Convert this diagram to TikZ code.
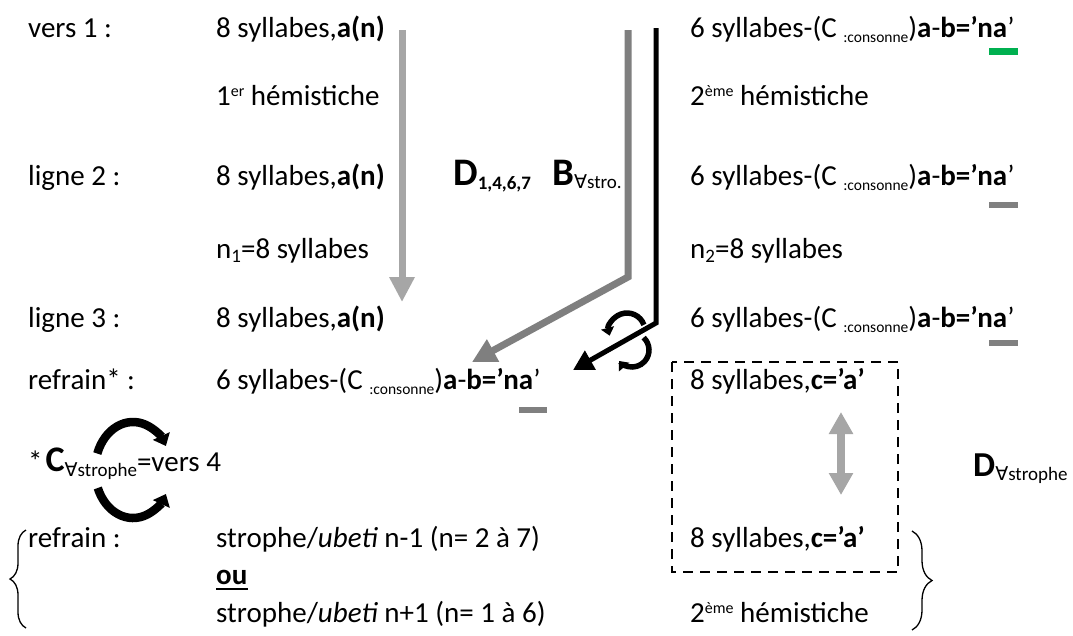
\documentclass[tikz,border=0pt]{standalone}
\usepackage{fontspec}
\setmainfont{Carlito}
\newfontfamily\djv{DejaVu Sans}
\usetikzlibrary{arrows.meta,calc,decorations.pathreplacing}
\definecolor{lgray}{HTML}{A6A6A6}
\definecolor{mgray}{HTML}{7F7F7F}
\definecolor{bargray}{HTML}{808080}
\definecolor{bargreen}{HTML}{00B050}
\newcommand\bodyfs{\fontsize{29}{34}\selectfont}
\newcommand\lowtxt[3]{\raisebox{-#2}{\fontsize{#1}{#1}\selectfont #3}}
\newcommand\hightxt[3]{\raisebox{#2}{\fontsize{#1}{#1}\selectfont #3}}
\newcommand\fa{{\djv ∀}}
\newcommand\sixsyl{6 syllabes-(C \lowtxt{15.5}{5pt}{:consonne})\textbf{a}-\textbf{b=’na}’}
\begin{document}
\begin{tikzpicture}[x=1pt,y=-1pt,
  txt/.style={anchor=base west,inner sep=0pt,font=\bodyfs},
  bar/.style={fill=bargray},
  lgarrow/.style={line width=7pt,lgray},
  curv/.style={line width=8.5pt,-{Triangle[width=18pt,length=11pt]}},
  scurv/.style={line width=5.5pt,-{Triangle[width=13pt,length=8pt]}},
  bracestyle/.style={line width=1.3pt,decorate}]
\fill[white] (0,0) rectangle (1073,635);
\useasboundingbox (0,0) rectangle (1073,635);
% texts
\node[txt] (v1) at (28,37) {vers 1 :};
\node[txt] (v1a) at (216,37) {8 syllabes,\textbf{a(n)}};
\node[txt] (v1b) at (690,37) {\sixsyl};
\node[txt] (h1) at (216,105) {1\hightxt{16}{9pt}{er} hémistiche};
\node[txt] (h2) at (690,105) {2\hightxt{16}{9pt}{ème} hémistiche};
\node[txt] (l2) at (28,185) {ligne 2 :};
\node[txt] (l2a) at (216,185) {8 syllabes,\textbf{a(n)}};
\node[txt] (dd) at (453,185) {\fontsize{39}{40}\selectfont\textbf{D}\lowtxt{19}{4pt}{\textbf{1,4,6,7}}};
\node[txt] (bb) at (552,185) {\fontsize{39}{40}\selectfont\textbf{B}\lowtxt{19}{3pt}{\fa stro.}};
\node[txt] (l2b) at (690,185) {\sixsyl};
\node[txt] (n1) at (216,258) {n\lowtxt{19}{4pt}{1}=8 syllabes};
\node[txt] (n2) at (690,258) {n\lowtxt{19}{4pt}{2}=8 syllabes};
\node[txt] (l3) at (28,327) {ligne 3 :};
\node[txt] (l3a) at (216,327) {8 syllabes,\textbf{a(n)}};
\node[txt] (l3b) at (690,327) {\sixsyl};
\node[txt] (rf) at (28,389) {refrain* :};
\node[txt] (rfa) at (216,389) {\sixsyl};
\node[txt] (rfb) at (690,389) {8 syllabes,\textbf{c=’a’}};
\node[txt] (cs) at (28,471) {*\kern3pt{\fontsize{36}{38}\selectfont\textbf{C}}\lowtxt{19}{5pt}{\fa strophe}=vers 4};
\node[txt] (ds) at (973,476) {\fontsize{35}{36}\selectfont\textbf{D}\lowtxt{19}{4pt}{\fa strophe}};
\node[txt] (rf2) at (28,547) {refrain :};
\node[txt] (s1) at (216,547) {strophe/\textit{ubeti} n-1 (n= 2 à 7)};
\node[txt] (rf2b) at (690,547) {8 syllabes,\textbf{c=’a’}};
\node[txt] (ou) at (216,584) {\textbf{ou}};
\node[txt] (s2) at (216,622) {strophe/\textit{ubeti} n+1 (n= 1 à 6)};
\node[txt] (h3) at (690,622) {2\hightxt{16}{9pt}{ème} hémistiche};
\draw[line width=2.5pt] ([yshift=-5pt]ou.base west) -- ([yshift=-5pt]ou.base east);
% bars
\fill[bargreen] (989,48) rectangle (1018,55);
\fill[bar] (989,202) rectangle (1018,208);
\fill[bar] (989,340) rectangle (1018,346);
\fill[bar] (519,407) rectangle (547,413);
% arrows
\coordinate (a1s) at (402,30);
\coordinate (a1e) at (402,302);
\draw[lgarrow,-{Triangle[width=24pt,length=25pt]}] (a1s) -- (a1e);
\coordinate (g1) at (628,30);
\coordinate (g2) at (628,277);
\coordinate (g3) at (472,362);
\draw[line width=7pt,mgray,-{Triangle[width=24pt,length=24pt]}] (g1) -- (g2) -- (g3);
\coordinate (k1) at (656,28);
\coordinate (k2) at (656,323);
\coordinate (k3) at (573,370);
\draw[line width=5pt,black,-{Triangle[width=21pt,length=20pt]}] (k1) -- (k2) -- (k3);
\coordinate (d1) at (841,412);
\coordinate (d2) at (841,495);
\draw[line width=8pt,lgray,{Triangle[width=23pt,length=22pt]}-{Triangle[width=23pt,length=22pt]}] (d1) -- (d2);
% curved arrows
\coordinate (cc) at (133,470);
\draw[curv] (cc) ++(200:38 and 48) arc[start angle=200,end angle=330,x radius=38,y radius=48];
\draw[curv] (cc) ++(158:38 and 48) arc[start angle=158,end angle=30,x radius=38,y radius=48];
\coordinate (sc1) at (627,331);
\draw[scurv] (sc1) ++(340:18) arc[start angle=340,end angle=165,radius=18];
\coordinate (sc2) at (632,350);
\draw[scurv] (sc2) ++(-47:17) arc[start angle=-47,end angle=140,radius=17];
% dashed box
\draw[line width=2.5pt,dash pattern=on 10pt off 7pt] (672,362) rectangle (898,572);
% braces
\coordinate (lb1) at (26,628);
\coordinate (lb2) at (26,530);
\draw[bracestyle,decoration={brace,amplitude=16pt}] (lb1) -- (lb2);
\coordinate (rb1) at (912,531);
\coordinate (rb2) at (912,630);
\draw[bracestyle,decoration={brace,amplitude=20pt}] (rb1) -- (rb2);
\end{tikzpicture}
\end{document}
